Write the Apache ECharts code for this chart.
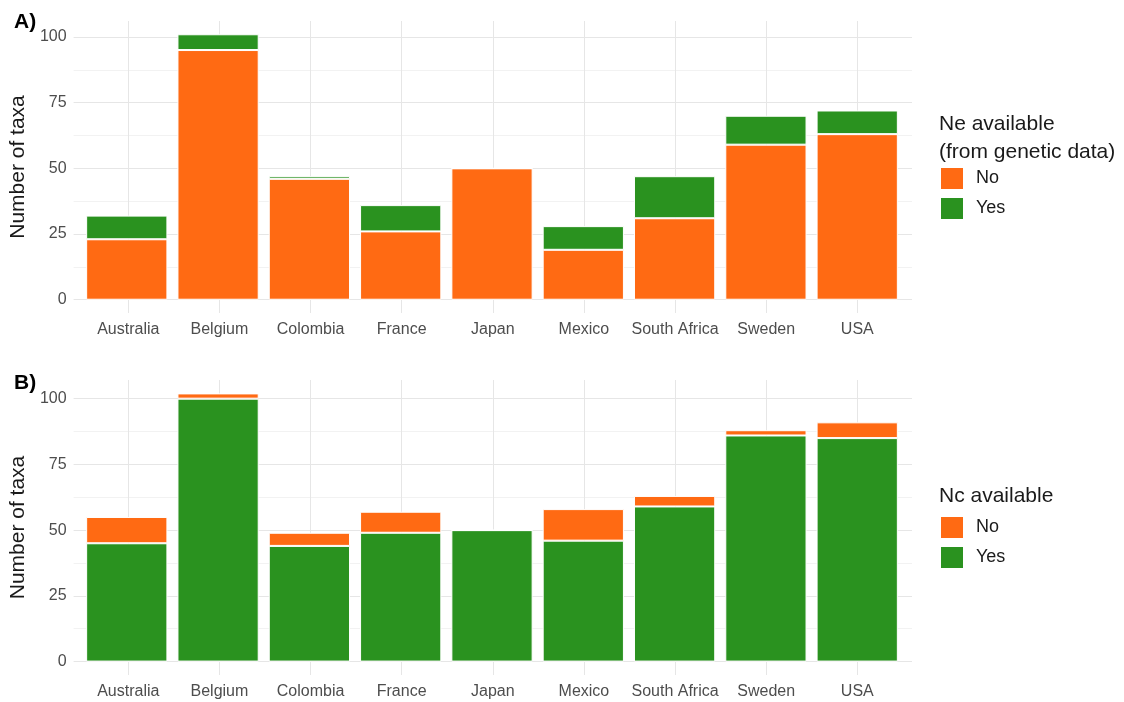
<!DOCTYPE html>
<html>
<head>
<meta charset="utf-8">
<script src="https://cdn.jsdelivr.net/npm/echarts@6/dist/echarts.min.js"></script>
<style>
html,body{margin:0;padding:0;background:#fff;}
#c{width:1124px;height:702px;}
</style>
</head>
<body>
<div id="c"></div>
<script>
const categories = ['Australia','Belgium','Colombia','France','Japan','Mexico','South Africa','Sweden','USA'];
// Panel A: Ne available (from genetic data)
const neNo  = [23, 95, 46, 26, 50, 19, 31, 59, 63];
const neYes = [ 9,  6,  1, 10,  0,  9, 16, 11,  9];
// Panel B: Nc available
const ncYes = [45, 100, 44, 49, 50, 46, 59, 86, 85];
const ncNo  = [10,   2,  5,  8,  0, 12,  4,  2,  6];
const yTickLabels = [0, 25, 50, 75, 100];
const yGridValues = [0, 12.5, 25, 37.5, 50, 62.5, 75, 87.5, 100];

const ORANGE = '#FF6A13';
const GREEN = '#2A921F';
const FONT = 'Liberation Sans, Arial, sans-serif';

const idx = categories.map((_, i) => i);

// background (panel) grids: 0 and 1 ; bar grids: 2 and 3
const PANEL_LEFT = 72, PANEL_W = 840;
const STEP = PANEL_W / 9.2;
const BAR_LEFT = PANEL_LEFT + 0.1 * STEP, BAR_W = 9 * STEP;
const panels = [
  {top: 21, height: 292, min: -5.05, max: 106.05},
  {top: 380, height: 295, min: -5.1, max: 107.1}
];

const grids = [], xAxes = [], yAxes = [];
panels.forEach((p, k) => {
  grids.push({left: PANEL_LEFT, top: p.top, width: PANEL_W, height: p.height});
  xAxes.push({
    type: 'value', gridIndex: k, min: -0.6, max: 8.6,
    axisLine: {show: false},
    axisTick: {show: false, customValues: idx},
    axisLabel: {customValues: idx, formatter: v => categories[Math.round(v)] || '',
      color: '#4d4d4d', fontSize: 16, fontFamily: FONT, margin: 9},
    splitLine: {show: true, lineStyle: {color: '#e6e6e6', width: 1}}
  });
  yAxes.push({
    type: 'value', gridIndex: k, min: p.min, max: p.max,
    name: 'Number of taxa', nameLocation: 'middle', nameRotate: 90, nameGap: 42,
    nameTextStyle: {fontSize: 21, color: '#1a1a1a', fontFamily: FONT},
    axisLine: {show: false},
    axisTick: {show: false, customValues: yGridValues},
    axisLabel: {customValues: yTickLabels, color: '#4d4d4d', fontSize: 16, fontFamily: FONT, margin: 7},
    splitLine: {show: true, lineStyle: {color: ['#e6e6e6', '#f2f2f2'], width: 1}}
  });
});
panels.forEach((p, k) => {
  grids.push({left: BAR_LEFT, top: p.top, width: BAR_W, height: p.height});
  xAxes.push({type: 'category', gridIndex: 2 + k, data: categories, show: false});
  yAxes.push({type: 'value', gridIndex: 2 + k, min: p.min, max: p.max, show: false, splitLine: {show: false}});
});

function bar(name, data, color, gi, stack) {
  return {
    type: 'bar', name: name, xAxisIndex: gi, yAxisIndex: gi, stack: stack,
    data: data, barWidth: '89%', z: 3,
    itemStyle: {color: color, borderColor: '#ffffff', borderWidth: 1},
    emphasis: {disabled: true}
  };
}

const legendText = {fontSize: 18, color: '#1a1a1a', fontFamily: FONT, padding: [0, 0, 0, 7]};
const chart = echarts.init(document.getElementById('c'), null, {renderer: 'canvas'});
chart.setOption({
  animation: false,
  backgroundColor: '#ffffff',
  title: [
    {text: 'A)', left: 9, top: 7, textStyle: {fontSize: 21, fontWeight: 'bold', color: '#000', fontFamily: FONT}},
    {text: 'B)', left: 9, top: 368, textStyle: {fontSize: 21, fontWeight: 'bold', color: '#000', fontFamily: FONT}}
  ],
  grid: grids,
  xAxis: xAxes,
  yAxis: yAxes,
  legend: [
    {data: ['No', 'Yes'], orient: 'vertical', left: 934, top: 161, itemWidth: 24, itemHeight: 23, itemGap: 5,
     icon: 'rect', selectedMode: false, textStyle: legendText},
    {data: ['No', 'Yes'], orient: 'vertical', left: 934, top: 510, itemWidth: 24, itemHeight: 23, itemGap: 5,
     icon: 'rect', selectedMode: false, textStyle: legendText}
  ],
  graphic: [
    {type: 'text', left: 939, top: 110, style: {text: 'Ne available\n(from genetic data)', fontSize: 21, lineHeight: 28, fill: '#1a1a1a', fontFamily: FONT}},
    {type: 'text', left: 939, top: 482, style: {text: 'Nc available', fontSize: 21, lineHeight: 28, fill: '#1a1a1a', fontFamily: FONT}}
  ],
  series: [
    bar('No', neNo, ORANGE, 2, 'a'),
    bar('Yes', neYes, GREEN, 2, 'a'),
    bar('Yes', ncYes, GREEN, 3, 'b'),
    bar('No', ncNo, ORANGE, 3, 'b')
  ]
});
</script>
</body>
</html>
